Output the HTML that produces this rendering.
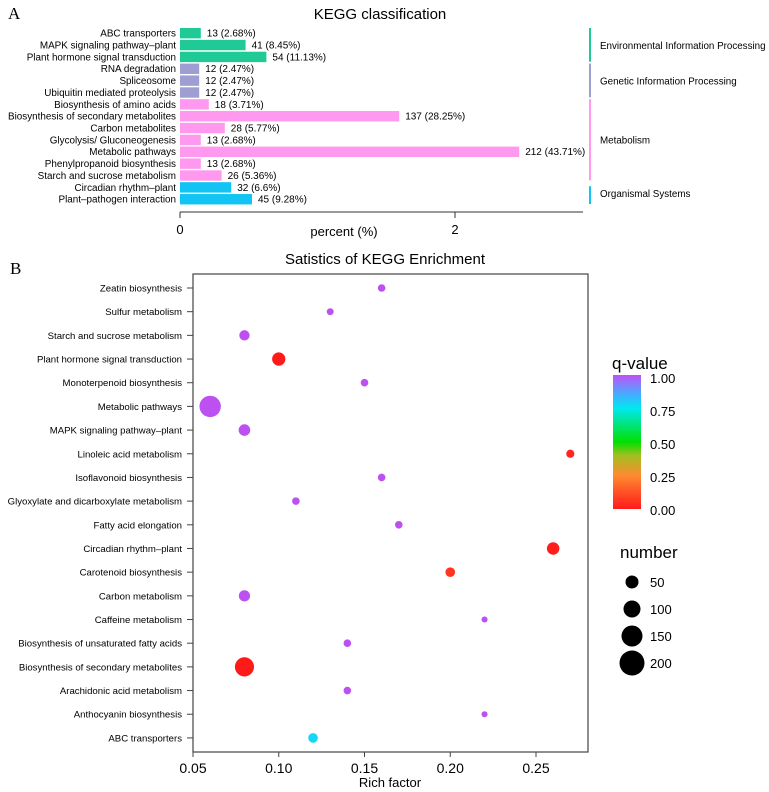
<!DOCTYPE html>
<html><head><meta charset="utf-8"><style>
body{margin:0;background:#fff;}
svg{display:block;font-family:"Liberation Sans",Arial,sans-serif;}
</style></head><body>
<svg id="chart" width="769" height="792" viewBox="0 0 769 792">
<defs>
<linearGradient id="qgrad" x1="0" y1="1" x2="0" y2="0">
<stop offset="0" stop-color="#ff1a1a"/>
<stop offset="0.25" stop-color="#ff8a30"/>
<stop offset="0.4" stop-color="#a0c020"/>
<stop offset="0.5" stop-color="#00e000"/>
<stop offset="0.75" stop-color="#00e8f0"/>
<stop offset="0.85" stop-color="#40b0ff"/>
<stop offset="1" stop-color="#c050f8"/>
</linearGradient>
</defs>
<text x="8" y="19" font-family="Liberation Serif,serif" font-size="17">A</text>
<text x="380" y="19" text-anchor="middle" font-size="15">KEGG classification</text>
<g id="barsG"></g>
<line x1="180" y1="212" x2="583" y2="212" stroke="#333" stroke-width="1"/>
<line x1="180" y1="212" x2="180" y2="218" stroke="#333"/>
<line x1="455" y1="212" x2="455" y2="218" stroke="#333"/>
<text x="180" y="234" text-anchor="middle" font-size="13">0</text>
<text x="455" y="234" text-anchor="middle" font-size="13">2</text>
<text x="344" y="236" text-anchor="middle" font-size="13">percent (%)</text>
<g id="groupsG"></g>

<text x="10" y="274" font-family="Liberation Serif,serif" font-size="17">B</text>
<text x="385" y="264" text-anchor="middle" font-size="15">Satistics of KEGG Enrichment</text>
<rect x="193" y="274" width="395" height="478" fill="none" stroke="#444" stroke-width="1.2"/>
<g id="dotsG"></g>
<text x="390" y="787" text-anchor="middle" font-size="13">Rich factor</text>

<text x="612" y="369" font-size="17">q-value</text>
<rect x="613" y="375" width="28" height="134" fill="url(#qgrad)"/>
<g font-size="13">
<text x="650" y="383">1.00</text>
<text x="650" y="416">0.75</text>
<text x="650" y="449">0.50</text>
<text x="650" y="482">0.25</text>
<text x="650" y="515">0.00</text>
</g>
<text x="620" y="558" font-size="17">number</text>
<g id="sizeLegG"></g>
</svg>
<script>
const barCats=["ABC transporters","MAPK signaling pathway\u2013plant","Plant hormone signal transduction","RNA degradation","Spliceosome","Ubiquitin mediated proteolysis","Biosynthesis of amino acids","Biosynthesis of secondary metabolites","Carbon metabolites","Glycolysis/ Gluconeogenesis","Metabolic pathways","Phenylpropanoid biosynthesis","Starch and sucrose metabolism","Circadian rhythm\u2013plant","Plant\u2013pathogen interaction"];
const barCounts=[13,41,54,12,12,12,18,137,28,13,212,13,26,32,45];
const barPercents=["2.68","8.45","11.13","2.47","2.47","2.47","3.71","28.25","5.77","2.68","43.71","2.68","5.36","6.6","9.28"];
const barGroups=[0,0,0,1,1,1,2,2,2,2,2,2,2,3,3];
const groupNames=["Environmental Information Processing","Genetic Information Processing","Metabolism","Organismal Systems"];
const groupColors=["#1fca97","#9e9ed2","#ff99f0","#11c4f4"];

const dotCats=["Zeatin biosynthesis","Sulfur metabolism","Starch and sucrose metabolism","Plant hormone signal transduction","Monoterpenoid biosynthesis","Metabolic pathways","MAPK signaling pathway\u2013plant","Linoleic acid metabolism","Isoflavonoid biosynthesis","Glyoxylate and dicarboxylate metabolism","Fatty acid elongation","Circadian rhythm\u2013plant","Carotenoid biosynthesis","Carbon metabolism","Caffeine metabolism","Biosynthesis of unsaturated fatty acids","Biosynthesis of secondary metabolites","Arachidonic acid metabolism","Anthocyanin biosynthesis","ABC transporters"];
const richFactor=[0.16,0.13,0.08,0.10,0.15,0.06,0.08,0.27,0.16,0.11,0.17,0.26,0.20,0.08,0.22,0.14,0.08,0.14,0.22,0.12];
const qValues=[1,1,1,0,1,1,1,0.03,1,1,1,0.01,0.06,1,1,1,0,1,1,0.78];
const geneNumbers=[9,6,28,60,9,210,40,12,9,9,9,50,22,36,3,9,160,9,3,22];
const xTicks=[0.05,0.10,0.15,0.20,0.25];
const legendNumbers=[50,100,150,200];

const NS="http://www.w3.org/2000/svg";
function mk(tag,attrs,parent,txt){const e=document.createElementNS(NS,tag);for(const k in attrs)e.setAttribute(k,attrs[k]);if(txt!==undefined)e.textContent=txt;parent.appendChild(e);return e;}

// Panel A
const bx=c=>180+c*1.6;
const by=i=>33+i*11.86;
const barsG=document.getElementById('barsG');
barCats.forEach((c,i)=>{
  const l=mk('text',{x:176,y:by(i)+3.6,'text-anchor':'end','font-size':9.9},barsG,c);
  
  
  const r=mk('rect',{x:180,y:by(i)-5,width:bx(barCounts[i])-180,height:10.4,fill:groupColors[barGroups[i]]},barsG);
  
  
  const v=mk('text',{x:bx(barCounts[i])+6,y:by(i)+3.6,'font-size':10},barsG,barCounts[i]+" ("+barPercents[i]+"%)");
  
  
});
const groupsG=document.getElementById('groupsG');
groupNames.forEach((g,gi)=>{
  const idx=barGroups.map((x,i)=>x===gi?i:-1).filter(i=>i>=0);
  const y1=by(idx[0])-5,y2=by(idx[idx.length-1])+5;
  const ln=mk('line',{x1:590,x2:590,y1:gi===3?y1+4:y1,y2:y2,stroke:groupColors[gi],'stroke-width':2},groupsG);
  
  
  const t=mk('text',{x:600,y:(y1+y2)/2+4,'font-size':9.8},groupsG,g);
  
  
});

// Panel B
const sx=v=>193+(v-0.05)*1715;
const sy=i=>288+i*23.68;
const sr=n=>2+0.6*Math.sqrt(n);
function qColor(q){
  const stops=[[0,[255,26,26]],[0.25,[255,138,48]],[0.4,[160,192,32]],[0.5,[0,224,0]],[0.75,[0,232,240]],[0.85,[64,176,255]],[1,[188,80,240]]];
  for(let k=1;k<stops.length;k++){if(q<=stops[k][0]){const a=stops[k-1],b=stops[k];const t=(q-a[0])/(b[0]-a[0]);return 'rgb('+a[1].map((v,j)=>Math.round(v+(b[1][j]-v)*t)).join(',')+')';}}
  return 'rgb(188,80,240)';
}
const dotsG=document.getElementById('dotsG');
dotCats.forEach((c,i)=>{
  const l=mk('text',{x:182,y:sy(i)+3.5,'text-anchor':'end','font-size':9.6},dotsG,c);
  
  
  const tk=mk('line',{x1:187,x2:193,y1:sy(i),y2:sy(i),stroke:'#444'},dotsG);
  
  
  const d=mk('circle',{cx:sx(richFactor[i]),cy:sy(i),r:sr(geneNumbers[i]),fill:qColor(qValues[i])},dotsG);
  
  
});
xTicks.forEach(v=>{
  const tk=mk('line',{x1:sx(v),x2:sx(v),y1:752,y2:757,stroke:'#444'},dotsG);
  
  
  const t=mk('text',{x:sx(v),y:773,'text-anchor':'middle','font-size':14},dotsG,v.toFixed(2));
  
  
});
const sizeLegG=document.getElementById('sizeLegG');
legendNumbers.forEach((n,i)=>{
  const y=582+i*27;
  const c=mk('circle',{cx:632,cy:y,r:6.5+i*2,fill:'#000'},sizeLegG);
  
  
  const t=mk('text',{x:650,y:y+5,'font-size':13},sizeLegG,n);
  
  
});
</script>
</body></html>
